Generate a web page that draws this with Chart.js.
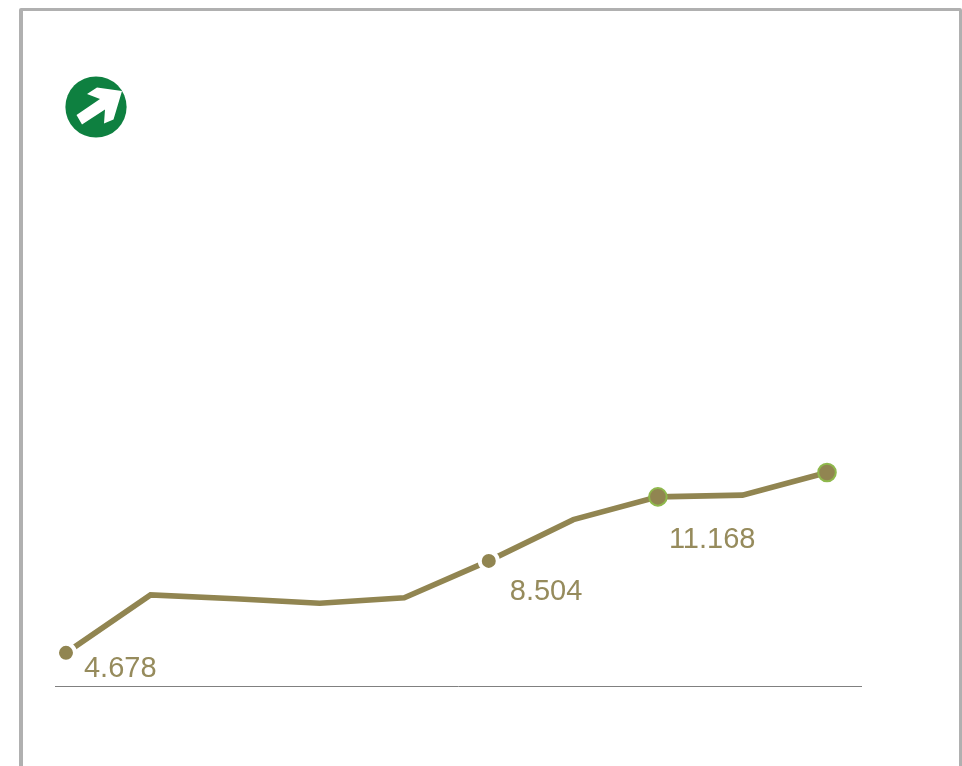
<!DOCTYPE html>
<html>
<head>
<meta charset="utf-8">
<script src="https://cdn.jsdelivr.net/npm/chart.js@4/dist/chart.umd.min.js"></script>
<style>
  html, body { margin: 0; padding: 0; width: 962px; height: 766px; overflow: hidden; background: #fff; }
  #frame { position: absolute; left: 19px; top: 8px; width: 936px; height: 800px; border: 3px solid #b0b0b0; border-left-width: 4px; border-radius: 2px; }
  #myChart { position: absolute; left: 0; top: 0; }
  #arrow { position: absolute; left: 60px; top: 70px; }
</style>
</head>
<body>
<div id="frame"></div>
<canvas id="myChart" width="962" height="766"></canvas>
<svg id="arrow" width="72" height="72" viewBox="60 70 72 72">
  <circle cx="96" cy="107" r="30.6" fill="#0e8040"/>
  <polygon fill="#fff" points="122,91 97,87.5 87,94 100,99 76.5,115 82,124.5 105,109.5 104,123.5 113.5,119.5"/>
</svg>
<script>
const positions = [0, 1, 2, 3, 4, 5, 6, 7, 8, 9];
const values = [4.678, 7.09, 6.93, 6.74, 6.97, 8.504, 10.22, 11.168, 11.24, 12.18];
const labelled = [0, 5, 7];
const labelTexts = ['4.678', '8.504', '11.168'];

const ctx = document.getElementById('myChart');

const olive = '#918551';

// value labels sit below and to the right of their points
const labelOffsets = [[18, 24], [21, 39], [11, 51]];
const valueLabels = {
  id: 'valueLabels',
  afterDatasetsDraw(chart) {
    const c = chart.ctx;
    c.save();
    c.font = '29px "Liberation Sans"';
    c.fillStyle = '#968b5c';
    c.textAlign = 'left';
    c.textBaseline = 'alphabetic';
    labelled.forEach((idx, i) => {
      const x = chart.scales.x.getPixelForValue(positions[idx]);
      const y = chart.scales.y.getPixelForValue(values[idx]);
      c.fillText(labelTexts[i], x + labelOffsets[i][0], y + labelOffsets[i][1]);
    });
    c.restore();
  }
};

new Chart(ctx, {
  type: 'line',
  data: {
    datasets: [{
      data: positions.map((p, i) => ({ x: p, y: values[i] })),
      borderColor: olive,
      borderWidth: 5.6,
      borderJoinStyle: 'miter',
      tension: 0,
      clip: false,
      pointBackgroundColor: olive,
      pointRadius: [9, 0, 0, 0, 0, 9, 0, 8.8, 0, 8.8],
      pointBorderWidth: [4, 0, 0, 0, 0, 4, 0, 2, 0, 2],
      pointBorderColor: ['#fff', olive, olive, olive, olive, '#fff', olive, '#8fb84c', olive, '#8fb84c']
    }]
  },
  options: {
    responsive: false,
    animation: false,
    layout: { padding: { left: 55, right: 101, top: 20, bottom: 80 } },
    plugins: { legend: { display: false }, tooltip: { enabled: false } },
    scales: {
      x: {
        type: 'linear',
        min: -0.13,
        max: 9.402,
        grid: { display: false, drawTicks: false },
        border: { display: true, color: '#808080', width: 1 },
        ticks: { display: false }
      },
      y: {
        display: false,
        min: 3.3,
        max: 31.0
      }
    }
  },
  plugins: [valueLabels]
});
</script>
</body>
</html>
